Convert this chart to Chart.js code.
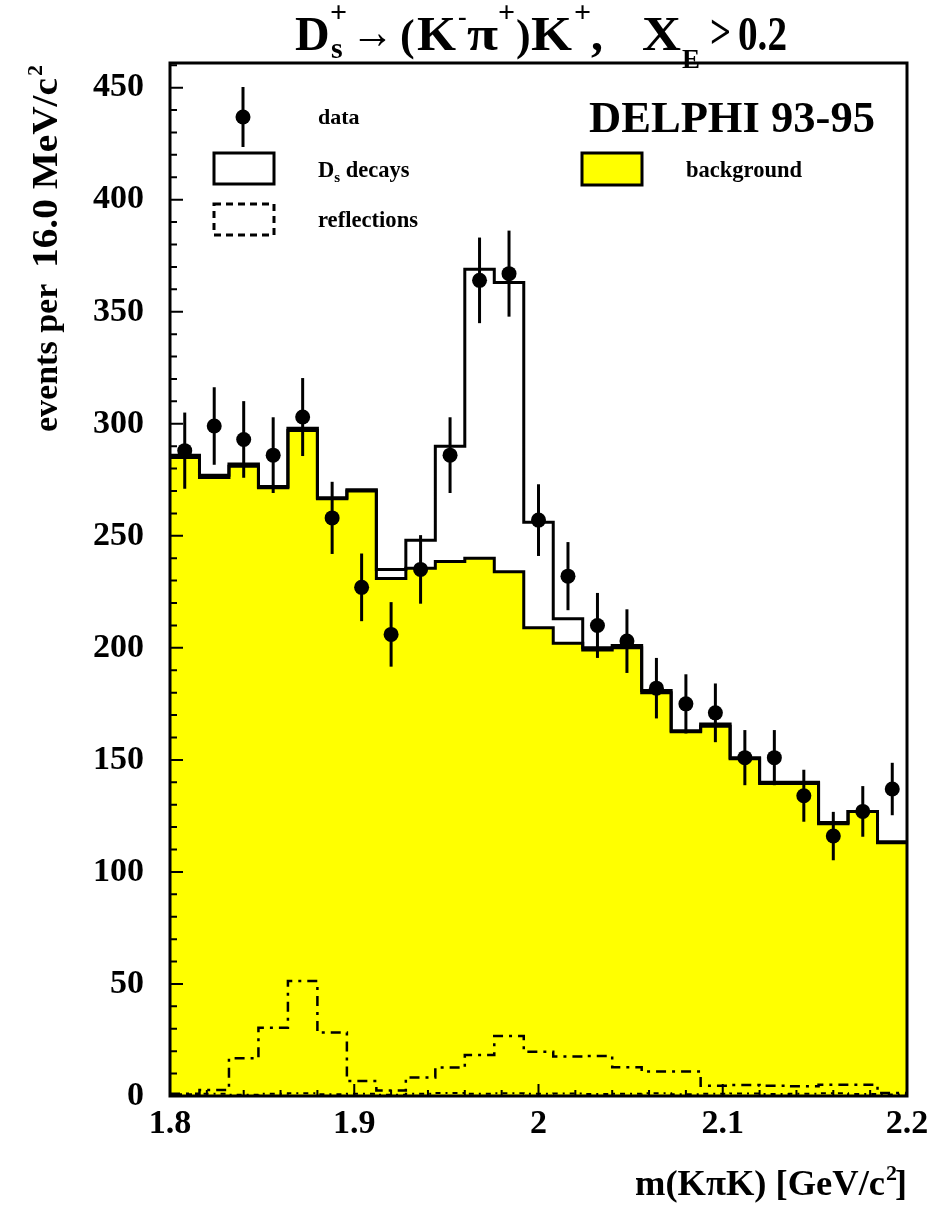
<!DOCTYPE html>
<html>
<head>
<meta charset="utf-8">
<script src="https://cdn.jsdelivr.net/npm/chart.js@4.4.1/dist/chart.umd.min.js"></script>
<style>
  body { margin: 0; background: #fff; }
  canvas { display: block; }
</style>
</head>
<body>
<canvas id="chart-ds" width="933" height="1205"></canvas>
<script>
// m(KpiK) bins, 16 MeV wide
var binCenters = [1.808, 1.824, 1.840, 1.856, 1.872, 1.888, 1.904, 1.920, 1.936, 1.952,
                  1.968, 1.984, 2.000, 2.016, 2.032, 2.048, 2.064, 2.080, 2.096, 2.112,
                  2.128, 2.144, 2.160, 2.176, 2.192];
var binHalf = 0.008;

// measured events per bin and their errors
var dataCounts = [288, 299, 293, 286, 303, 258, 227, 206, 235, 286,
                  364, 367, 257, 232, 210, 203, 182, 175, 171, 151,
                  151, 134, 116, 127, 137];
var dataErrors = [17, 17.3, 17.1, 16.9, 17.4, 16.1, 15.1, 14.4, 15.3, 16.9,
                  19.1, 19.2, 16, 15.2, 14.5, 14.2, 13.5, 13.2, 13.1, 12.3,
                  12.3, 11.6, 10.8, 11.3, 11.7];

// fit: Ds decays + background (outline)
var totalFit = [286, 277, 282, 272, 298, 267, 270.5, 235, 248, 290,
                369, 363, 256, 213, 200, 201, 181, 163, 166, 151,
                140, 140, 122, 127, 113.5];
// background only (yellow)
var bgFit = [285, 276, 281, 271.5, 297, 266.5, 270, 231, 235.5, 238.5,
             240, 234, 209, 202, 199, 200, 180, 162.5, 165, 150.5,
             139.5, 139.5, 121.5, 127, 113];
// reflections
var reflFit = [1, 2.7, 16.8, 30.5, 51.3, 28.3, 6.7, 2.4, 8.3, 12.7,
               18.3, 26.8, 19.8, 17.6, 17.9, 12.8, 10.9, 10.9, 4.6, 4.9,
               4.6, 4.3, 5, 5, 1.3];
var reflLow = [0.8, 1, 0.6, 1, 1.2, 0.8, 1, 0.6, 1, 1.3,
               1, 1.2, 1, 1.1, 0.9, 1, 1.2, 0.8, 1, 1.1,
               0.9, 1, 1.2, 0.9, 0.7];

var xTickValues = [1.8, 1.9, 2.0, 2.1, 2.2];
var yTickValues = [0, 50, 100, 150, 200, 250, 300, 350, 400, 450];

var FONT = "'Liberation Serif', 'Times New Roman', serif";
var YELLOW = '#ffff00';

function histPoints(vals) {
  var pts = [];
  for (var i = 0; i < vals.length; i++) {
    pts.push({ x: binCenters[i] - binHalf, y: vals[i] });
    pts.push({ x: binCenters[i] + binHalf, y: vals[i] });
  }
  return pts;
}

var dataPoints = dataCounts.map(function (v, i) { return { x: binCenters[i], y: v }; });

// bold serif text at (x, y); squeezed/stretched to width w when given
function txt(ctx, s, x, y, size, w) {
  ctx.font = 'bold ' + size + 'px ' + FONT;
  var m = ctx.measureText(s).width;
  if (w) {
    ctx.save();
    ctx.translate(x, y);
    ctx.scale(w / m, 1);
    ctx.fillText(s, 0, 0);
    ctx.restore();
    return w;
  }
  ctx.fillText(s, x, y);
  return m;
}

var decorPlugin = {
  id: 'decor',
  afterDatasetsDraw: function (chart) {
    var ctx = chart.ctx;
    var a = chart.chartArea;
    var xs = chart.scales.x, ys = chart.scales.y;
    ctx.save();
    ctx.fillStyle = '#000';
    ctx.strokeStyle = '#000';
    ctx.textAlign = 'left';
    ctx.textBaseline = 'alphabetic';

    // error bars
    ctx.lineWidth = 3;
    dataCounts.forEach(function (v, i) {
      var px = xs.getPixelForValue(binCenters[i]);
      ctx.beginPath();
      ctx.moveTo(px, ys.getPixelForValue(v - dataErrors[i]));
      ctx.lineTo(px, ys.getPixelForValue(v + dataErrors[i]));
      ctx.stroke();
    });

    // frame
    ctx.lineWidth = 3;
    ctx.strokeRect(a.left, a.top, a.right - a.left, a.bottom - a.top);

    // inward ticks
    ctx.lineWidth = 2;
    ctx.beginPath();
    for (var t = 0; t <= 460; t += 10) {
      var py = ys.getPixelForValue(t);
      if (py < a.top + 2) break;
      var len = (t % 50 === 0) ? 13 : 7;
      ctx.moveTo(a.left, py);
      ctx.lineTo(a.left + len, py);
    }
    for (var k = 0; k <= 20; k++) {
      var px = xs.getPixelForValue(1.8 + k * 0.02);
      var l2 = (k % 5 === 0) ? 12 : 6;
      ctx.moveTo(px, a.bottom);
      ctx.lineTo(px, a.bottom - l2);
    }
    ctx.stroke();

    // title: Ds+ -> (K- pi+) K+,  X_E > 0.2
    txt(ctx, 'D', 295, 50, 48);
    txt(ctx, '+', 330, 22, 30);
    txt(ctx, 's', 331, 58, 30);
    txt(ctx, '\u2192', 351, 48, 48, 43);
    txt(ctx, '(', 400, 50, 44);
    txt(ctx, 'K', 417, 50, 48, 39);
    txt(ctx, '-', 458, 25, 26);
    txt(ctx, '\u03c0', 467, 50, 48, 31);
    txt(ctx, '+', 498, 22, 30);
    txt(ctx, ')', 516, 50, 44);
    txt(ctx, 'K', 531, 50, 48, 41);
    txt(ctx, '+', 574, 22, 30);
    txt(ctx, ',', 591, 50, 48);
    txt(ctx, 'X', 642, 50, 48, 39);
    txt(ctx, 'E', 682, 68, 27);
    txt(ctx, '>', 710, 48, 48, 21);
    txt(ctx, '0.2', 738, 50, 48, 49);

    // y axis title
    ctx.save();
    ctx.translate(57, 432);
    ctx.rotate(-Math.PI / 2);
    txt(ctx, 'events per', 0, 0, 34);
    txt(ctx, '16.0 MeV/c', 164, 0, 36, 190);
    txt(ctx, '2', 356, -15, 22);
    ctx.restore();

    // x axis title
    var xw = txt(ctx, 'm(K\u03c0K) [GeV/c', 635, 1195, 36, 250);
    txt(ctx, '2', 635 + xw + 1, 1180, 22);
    txt(ctx, ']', 635 + xw + 10, 1195, 36);

    // legend
    ctx.lineWidth = 3;
    ctx.beginPath();
    ctx.moveTo(243, 87); ctx.lineTo(243, 147); ctx.stroke();
    ctx.beginPath(); ctx.arc(243, 117, 7.5, 0, Math.PI * 2); ctx.fill();
    ctx.fillStyle = '#fff';
    ctx.fillRect(214, 153, 60, 31);
    ctx.strokeRect(214, 153, 60, 31);
    ctx.setLineDash([7, 5]);
    ctx.strokeRect(214, 204, 60, 31);
    ctx.setLineDash([]);
    ctx.fillStyle = YELLOW;
    ctx.fillRect(582, 153, 60, 32);
    ctx.strokeRect(582, 153, 60, 32);
    ctx.fillStyle = '#000';
    txt(ctx, 'data', 318, 124, 22);
    var dw = txt(ctx, 'D', 318, 177, 22.5);
    var sw = txt(ctx, 's', 318 + dw, 182, 15);
    txt(ctx, ' decays', 318 + dw + sw, 177, 22.5);
    txt(ctx, 'reflections', 318, 227, 22.5, 100);
    txt(ctx, 'background', 686, 177, 22.5, 116);
    txt(ctx, 'DELPHI 93-95', 589, 132, 45, 286);
    ctx.restore();
  }
};

var ctx = document.getElementById('chart-ds').getContext('2d');
var tickFont = { family: FONT, size: 34, weight: 'bold' };

new Chart(ctx, {
  type: 'line',
  data: {
    datasets: [
      {
        label: 'data',
        type: 'scatter',
        data: dataPoints,
        pointRadius: 7.5,
        pointBackgroundColor: '#000',
        pointBorderWidth: 0,
        showLine: false,
        order: 0
      },
      {
        label: 'Ds decays',
        data: histPoints(totalFit),
        borderColor: '#000',
        borderWidth: 3,
        pointRadius: 0,
        fill: false,
        order: 1
      },
      {
        label: 'reflections',
        data: histPoints(reflFit),
        borderColor: '#000',
        borderWidth: 2.5,
        borderDash: [10, 6, 3, 6],
        pointRadius: 0,
        fill: false,
        order: 2
      },
      {
        label: 'reflections low',
        data: histPoints(reflLow),
        borderColor: '#000',
        borderWidth: 2,
        borderDash: [5, 5, 2, 5],
        pointRadius: 0,
        fill: false,
        order: 3
      },
      {
        label: 'background',
        data: histPoints(bgFit),
        borderColor: '#000',
        borderWidth: 3,
        backgroundColor: YELLOW,
        pointRadius: 0,
        fill: 'origin',
        order: 4
      }
    ]
  },
  options: {
    responsive: false,
    animation: false,
    events: [],
    layout: { padding: { top: 63, right: 26, left: 0, bottom: 0 } },
    plugins: { legend: { display: false }, tooltip: { enabled: false } },
    scales: {
      x: {
        type: 'linear',
        min: 1.8,
        max: 2.2,
        grid: { display: false, drawTicks: false },
        border: { display: false },
        afterFit: function (s) { s.height = 109; s.paddingLeft = 0; s.paddingRight = 0; },
        afterBuildTicks: function (s) { s.ticks = xTickValues.map(function (v) { return { value: v }; }); },
        ticks: {
          font: tickFont,
          color: '#000',
          padding: 8,
          maxRotation: 0,
          autoSkip: false,
          callback: function (v) { return String(v); }
        }
      },
      y: {
        min: 0,
        max: 461,
        grid: { display: false, drawTicks: false },
        border: { display: false },
        afterFit: function (s) { s.width = 170; s.paddingTop = 0; s.paddingBottom = 0; },
        afterBuildTicks: function (s) { s.ticks = yTickValues.map(function (v) { return { value: v }; }); },
        ticks: {
          font: tickFont,
          color: '#000',
          padding: 26,
          autoSkip: false,
          callback: function (v) { return String(v); }
        }
      }
    }
  },
  plugins: [decorPlugin]
});
</script>
</body>
</html>
